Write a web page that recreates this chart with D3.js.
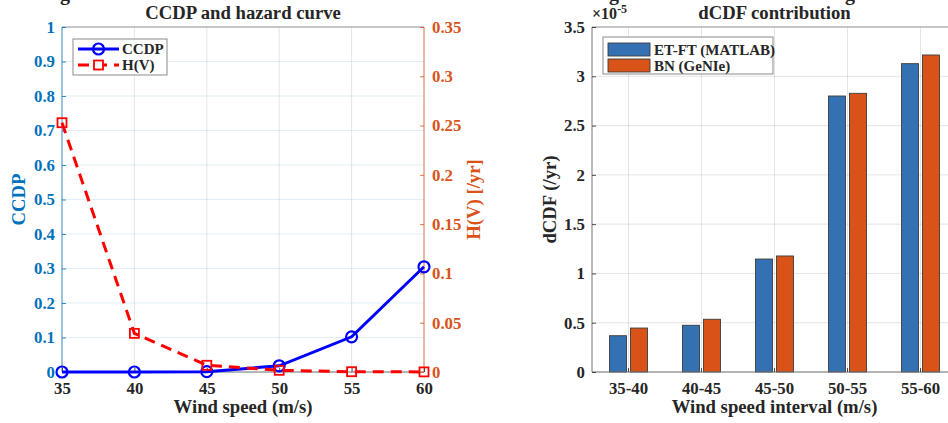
<!DOCTYPE html>
<html>
<head>
<meta charset="utf-8">
<script src="https://cdn.jsdelivr.net/npm/d3@7"></script>
<style>
    body { margin: 0; background: #fff; }
    svg { display: block; }
    svg text { font-family: 'Liberation Serif', 'Times New Roman', serif; font-weight: bold; }
</style>
</head>
<body>
<svg id="fig" width="948" height="423"></svg>
<script>
// left panel: CCDP and hazard curve
const windSpeeds = [35, 40, 45, 50, 55, 60]
const ccdp = [0, 0, 0.001, 0.018, 0.102, 0.305]
const hazard = [0.2529, 0.0392, 0.0068, 0.0017, 0.0003, 0.0001]
const ccdpTicks = [0, 0.1, 0.2, 0.3, 0.4, 0.5, 0.6, 0.7, 0.8, 0.9, 1]
const hazardTicks = [0, 0.05, 0.1, 0.15, 0.2, 0.25, 0.3, 0.35]

// right panel: dCDF contribution
const intervals = ['35-40', '40-45', '45-50', '50-55', '55-60']
const seriesNames = ['ET-FT (MATLAB)', 'BN (GeNIe)']
const dcdfEtFt = [0.368e-5, 0.474e-5, 1.146e-5, 2.800e-5, 3.128e-5]
const dcdfBn = [0.446e-5, 0.535e-5, 1.177e-5, 2.827e-5, 3.216e-5]
const dcdfTicks = [0, 0.5e-5, 1e-5, 1.5e-5, 2e-5, 2.5e-5, 3e-5, 3.5e-5]

const BLUE_AX = '#0072BD'
const ORANGE_AX = '#D95319'
const DARK = '#262626'
const fmt = d => d3.format('~g')(+d.toFixed(6))

const svg = d3.select('#fig')

// cut-off header glyphs at the very top
svg.selectAll('.cut')
    .data([65, 614, 850])
    .join('text')
        .attr('class', 'cut')
        .attr('x', d => d)
        .attr('y', 0)
        .attr('text-anchor', 'middle')
        .attr('font-size', 20)
        .attr('fill', DARK)
        .text('g')

function styleAxis(g, color, size) {
    g.attr('font-family', null).attr('font-size', null)
    g.select('.domain').remove()
    g.selectAll('.tick line').attr('stroke', color).attr('stroke-width', 0.8)
    g.selectAll('.tick text').attr('fill', color).style('font-size', size + 'px')
}

function drawLeft() {
    const left = 62, right = 424, top = 27, bottom = 372

    const x = d3.scaleLinear().domain([35, 60]).range([left, right])
    const yL = d3.scaleLinear().domain([0, 1]).range([bottom, top])
    const yR = d3.scaleLinear().domain([0, 0.35]).range([bottom, top])

    const chart = svg.append('g')

    // grid
    chart.append('g').selectAll('line')
        .data(windSpeeds)
        .join('line')
            .attr('x1', d => x(d)).attr('x2', d => x(d))
            .attr('y1', top).attr('y2', bottom)
            .attr('stroke', DARK).attr('stroke-opacity', 0.12)
    chart.append('g').selectAll('line')
        .data(ccdpTicks)
        .join('line')
            .attr('x1', left).attr('x2', right)
            .attr('y1', d => yL(d)).attr('y2', d => yL(d))
            .attr('stroke', BLUE_AX).attr('stroke-opacity', 0.12)

    // frame
    chart.append('line').attr('x1', left).attr('x2', right).attr('y1', top).attr('y2', top)
        .attr('stroke', '#9a9a9a').attr('stroke-width', 1)
    chart.append('line').attr('x1', left).attr('x2', right).attr('y1', bottom).attr('y2', bottom)
        .attr('stroke', '#777').attr('stroke-width', 1)
    chart.append('line').attr('x1', left).attr('x2', left).attr('y1', top).attr('y2', bottom)
        .attr('stroke', BLUE_AX).attr('stroke-opacity', 0.6).attr('stroke-width', 1.2)
    chart.append('line').attr('x1', right).attr('x2', right).attr('y1', top).attr('y2', bottom)
        .attr('stroke', ORANGE_AX).attr('stroke-opacity', 0.6).attr('stroke-width', 1.2)

    // axes
    chart.append('g')
        .attr('transform', `translate(0, ${bottom})`)
        .call(d3.axisBottom(x).tickValues(windSpeeds).tickSizeInner(-4).tickSizeOuter(0).tickPadding(10))
        .call(g => styleAxis(g, DARK, 16.8))
    chart.append('g')
        .attr('transform', `translate(${left}, 0)`)
        .call(d3.axisLeft(yL).tickValues(ccdpTicks).tickFormat(fmt).tickSizeInner(-4).tickSizeOuter(0).tickPadding(7))
        .call(g => styleAxis(g, BLUE_AX, 16.8))
    chart.append('g')
        .attr('transform', `translate(${right}, 0)`)
        .call(d3.axisRight(yR).tickValues(hazardTicks).tickFormat(fmt).tickSizeInner(-4).tickSizeOuter(0).tickPadding(8))
        .call(g => styleAxis(g, ORANGE_AX, 16.8))

    // CCDP line
    const lineL = d3.line().x((d, i) => x(windSpeeds[i])).y(d => yL(d))
    chart.append('path')
        .attr('d', lineL(ccdp))
        .attr('fill', 'none').attr('stroke', '#0000ff').attr('stroke-width', 3)
    chart.selectAll('.ccdp-pt')
        .data(ccdp)
        .join('circle')
            .attr('class', 'ccdp-pt')
            .attr('cx', (d, i) => x(windSpeeds[i]))
            .attr('cy', d => yL(d))
            .attr('r', 5.5)
            .attr('fill', 'none').attr('stroke', '#0000ff').attr('stroke-width', 2.2)

    // hazard line
    const lineR = d3.line().x((d, i) => x(windSpeeds[i])).y(d => yR(d))
    chart.append('path')
        .attr('d', lineR(hazard))
        .attr('fill', 'none').attr('stroke', '#ff0000').attr('stroke-width', 3)
        .attr('stroke-dasharray', '11,7')
    chart.selectAll('.haz-pt')
        .data(hazard)
        .join('rect')
            .attr('class', 'haz-pt')
            .attr('x', (d, i) => x(windSpeeds[i]) - 4.5)
            .attr('y', d => yR(d) - 4.5)
            .attr('width', 9).attr('height', 9)
            .attr('fill', 'none').attr('stroke', '#ff0000').attr('stroke-width', 1.8)

    // labels
    chart.append('text')
        .attr('x', (left + right) / 2).attr('y', 19)
        .attr('text-anchor', 'middle').attr('font-size', 18.7).attr('fill', DARK)
        .text('CCDP and hazard curve')
    chart.append('text')
        .attr('x', (left + right) / 2).attr('y', 413)
        .attr('text-anchor', 'middle').attr('font-size', 18.7).attr('fill', DARK)
        .text('Wind speed (m/s)')
    chart.append('text')
        .attr('transform', `translate(24.5, ${(top + bottom) / 2}) rotate(-90)`)
        .attr('text-anchor', 'middle').attr('font-size', 18.7).attr('fill', BLUE_AX)
        .text('CCDP')
    chart.append('text')
        .attr('transform', `translate(480, ${(top + bottom) / 2}) rotate(-90)`)
        .attr('text-anchor', 'middle').attr('font-size', 18.7).attr('fill', ORANGE_AX)
        .text('H(V) [/yr]')

    // legend
    const legend = chart.append('g')
    legend.append('rect')
        .attr('x', 73).attr('y', 39).attr('width', 94).attr('height', 36)
        .attr('fill', '#fff').attr('stroke', '#8a8a8a').attr('stroke-width', 1)
    const rows = [
        { name: 'CCDP', color: '#0000ff', dash: null, y: 49 },
        { name: 'H(V)', color: '#ff0000', dash: '11,7', y: 65 }
    ]
    rows.forEach((r, i) => {
        legend.append('line')
            .attr('x1', 78).attr('x2', 119).attr('y1', r.y).attr('y2', r.y)
            .attr('stroke', r.color).attr('stroke-width', 3)
            .attr('stroke-dasharray', r.dash)
        if (i === 0) {
            legend.append('circle').attr('cx', 98.5).attr('cy', r.y).attr('r', 5.5)
                .attr('fill', 'none').attr('stroke', r.color).attr('stroke-width', 2.2)
        } else {
            legend.append('rect').attr('x', 94).attr('y', r.y - 4.5).attr('width', 9).attr('height', 9)
                .attr('fill', '#fff').attr('stroke', r.color).attr('stroke-width', 1.8)
        }
        legend.append('text')
            .attr('x', 122).attr('y', r.y + 5)
            .attr('font-size', 15).attr('fill', DARK)
            .text(r.name)
    })
}

function drawRight() {
    const left = 592, right = 957, top = 27, bottom = 372

    const x = d3.scaleBand().domain(intervals).range([left, right]).padding(0)
    const xInner = d3.scaleBand().domain(seriesNames)
        .range([x.bandwidth() / 2 - 19, x.bandwidth() / 2 + 19]).paddingInner(0.19)
    const y = d3.scaleLinear().domain([0, 3.5e-5]).range([bottom, top])
    const colors = d3.scaleOrdinal().domain(seriesNames).range(['#3371b2', '#d95319'])

    const chart = svg.append('g')

    // grid
    chart.append('g').selectAll('line')
        .data(intervals)
        .join('line')
            .attr('x1', d => x(d) + x.bandwidth() / 2).attr('x2', d => x(d) + x.bandwidth() / 2)
            .attr('y1', top).attr('y2', bottom)
            .attr('stroke', DARK).attr('stroke-opacity', 0.12)
    chart.append('g').selectAll('line')
        .data(dcdfTicks)
        .join('line')
            .attr('x1', left).attr('x2', right)
            .attr('y1', d => y(d)).attr('y2', d => y(d))
            .attr('stroke', DARK).attr('stroke-opacity', 0.12)

    // bars
    const rows = intervals.map((k, i) => ({ key: k, values: [dcdfEtFt[i], dcdfBn[i]] }))
    chart.append('g').selectAll('g')
        .data(rows)
        .join('g')
            .attr('transform', d => `translate(${x(d.key)}, 0)`)
        .selectAll('rect')
        .data(d => d.values.map((v, j) => ({ name: seriesNames[j], value: v })))
        .join('rect')
            .attr('x', d => xInner(d.name))
            .attr('width', xInner.bandwidth())
            .attr('y', d => y(d.value))
            .attr('height', d => bottom - y(d.value))
            .attr('fill', d => colors(d.name))
            .attr('stroke', '#3c3c3c').attr('stroke-width', 0.9)

    // frame
    chart.append('line').attr('x1', left).attr('x2', right).attr('y1', top).attr('y2', top)
        .attr('stroke', '#9a9a9a').attr('stroke-width', 1)
    chart.append('line').attr('x1', left).attr('x2', right).attr('y1', bottom).attr('y2', bottom)
        .attr('stroke', '#777').attr('stroke-width', 1)
    chart.append('line').attr('x1', left).attr('x2', left).attr('y1', top).attr('y2', bottom)
        .attr('stroke', '#777').attr('stroke-width', 1)

    // axes
    chart.append('g')
        .attr('transform', `translate(0, ${bottom})`)
        .call(d3.axisBottom(x).tickSizeInner(-4).tickSizeOuter(0).tickPadding(10))
        .call(g => styleAxis(g, DARK, 16.8))
    chart.append('g')
        .attr('transform', `translate(${left}, 0)`)
        .call(d3.axisLeft(y).tickValues(dcdfTicks).tickFormat(d => fmt(d / 1e-5)).tickSizeInner(-4).tickSizeOuter(0).tickPadding(7))
        .call(g => styleAxis(g, DARK, 16.8))

    // exponent
    const expo = chart.append('text').attr('x', left).attr('y', 19).attr('font-size', 16).attr('fill', DARK)
    expo.append('tspan').text('×10')
    expo.append('tspan').attr('dy', -6).attr('font-size', 12).text('-5')

    // labels
    chart.append('text')
        .attr('x', (left + right) / 2).attr('y', 19)
        .attr('text-anchor', 'middle').attr('font-size', 18.7).attr('fill', DARK)
        .text('dCDF contribution')
    chart.append('text')
        .attr('x', (left + right) / 2).attr('y', 413)
        .attr('text-anchor', 'middle').attr('font-size', 18.7).attr('fill', DARK)
        .text('Wind speed interval (m/s)')
    chart.append('text')
        .attr('transform', `translate(556, ${(top + bottom) / 2}) rotate(-90)`)
        .attr('text-anchor', 'middle').attr('font-size', 18.7).attr('fill', DARK)
        .text('dCDF (/yr)')

    // legend
    const legend = chart.append('g')
    legend.append('rect')
        .attr('x', 603).attr('y', 37).attr('width', 170).attr('height', 37)
        .attr('fill', '#fff').attr('stroke', '#8a8a8a').attr('stroke-width', 1)
    seriesNames.forEach((name, i) => {
        const yy = 43 + i * 16
        legend.append('rect')
            .attr('x', 608).attr('y', yy).attr('width', 42).attr('height', 13)
            .attr('fill', colors(name)).attr('stroke', '#3c3c3c').attr('stroke-width', 0.9)
        legend.append('text')
            .attr('x', 654).attr('y', yy + 11.5)
            .attr('font-size', 15).attr('fill', DARK)
            .text(name)
    })
}

drawLeft()
drawRight()
</script>
</body>
</html>
